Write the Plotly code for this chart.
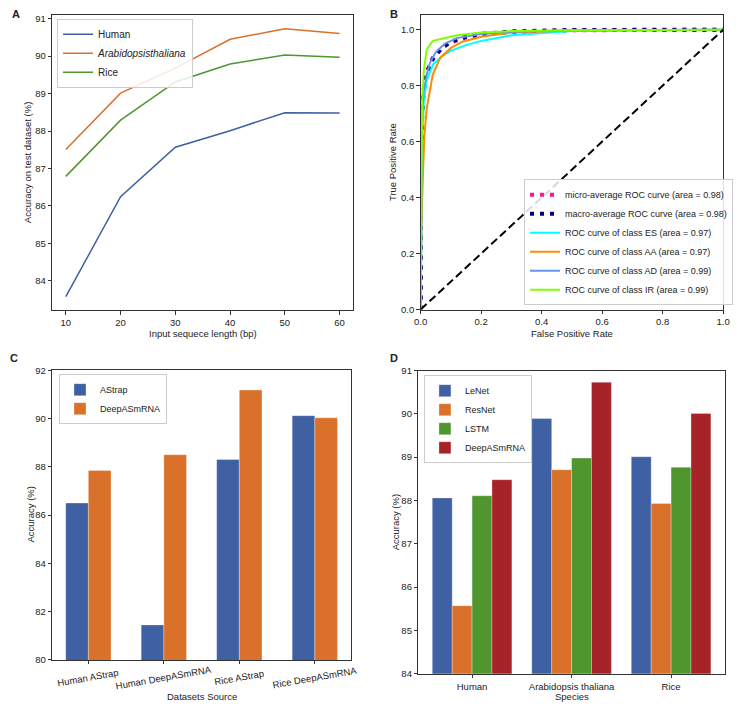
import plotly.graph_objects as go

# ---------------- Data ----------------
# Panel A
seq_len = [10, 20, 30, 40, 50, 60]
acc_human = [83.58, 86.25, 87.57, 88.01, 88.49, 88.48]
acc_arab = [87.51, 89.01, 89.68, 90.45, 90.73, 90.60]
acc_rice = [86.79, 88.29, 89.31, 89.79, 90.03, 89.97]

# Panel B (ROC curves)
micro_fpr = [0, 0.001, 0.005, 0.01, 0.02, 0.04, 0.07, 0.1, 0.15, 0.2, 0.3, 0.5, 1.0]
micro_tpr = [0, 0.50, 0.72, 0.79, 0.85, 0.90, 0.935, 0.955, 0.972, 0.982, 0.992, 0.998, 1.0]
macro_fpr = [0, 0.001, 0.005, 0.01, 0.02, 0.04, 0.07, 0.1, 0.15, 0.2, 0.3, 0.5, 1.0]
macro_tpr = [0, 0.48, 0.70, 0.78, 0.845, 0.895, 0.935, 0.957, 0.975, 0.985, 0.994, 0.999, 1.0]
es_fpr = [0, 0.002, 0.005, 0.01, 0.02, 0.04, 0.07, 0.1, 0.15, 0.2, 0.3, 0.5, 1.0]
es_tpr = [0, 0.45, 0.62, 0.74, 0.82, 0.875, 0.905, 0.925, 0.945, 0.96, 0.98, 0.995, 1.0]
aa_fpr = [0, 0.002, 0.008, 0.012, 0.02, 0.04, 0.065, 0.1, 0.14, 0.2, 0.3, 0.5, 1.0]
aa_tpr = [0, 0.30, 0.50, 0.62, 0.72, 0.84, 0.90, 0.935, 0.958, 0.975, 0.99, 0.997, 1.0]
ad_fpr = [0, 0.002, 0.005, 0.01, 0.02, 0.03, 0.05, 0.08, 0.12, 0.2, 0.3, 0.5, 1.0]
ad_tpr = [0, 0.55, 0.70, 0.78, 0.84, 0.88, 0.92, 0.95, 0.97, 0.985, 0.993, 0.998, 1.0]
ir_fpr = [0, 0.002, 0.005, 0.01, 0.02, 0.04, 0.08, 0.12, 0.2, 0.3, 0.5, 1.0]
ir_tpr = [0, 0.55, 0.75, 0.85, 0.93, 0.96, 0.97, 0.98, 0.99, 0.995, 0.998, 1.0]
chance = [0, 1]

# Panel C
datasets = ["Human AStrap", "Human DeepASmRNA", "Rice AStrap", "Rice DeepASmRNA"]
c_astrap = [86.50, 81.45, 88.30, 90.12]
c_deep = [87.85, 88.50, 91.18, 90.03]

# Panel D
species = ["Human", "Arabidopsis thaliana", "Rice"]
d_lenet = [88.06, 89.89, 89.01]
d_resnet = [85.57, 88.71, 87.93]
d_lstm = [88.11, 88.98, 88.77]
d_deep = [88.48, 90.73, 90.01]

# ---------------- Style ----------------
W, H = 738, 707
FONT = "Liberation Sans, Arial, sans-serif"
TXT = "#222222"
BLUE, ORANGE, GREEN, RED = "#3f60a3", "#d9712a", "#4f962f", "#a62428"


def px(x):
    return x / W


def py(y):
    return 1 - y / H


fig = go.Figure()

# Panel A
for ys, name, col in [(acc_human, "Human", BLUE),
                      (acc_arab, "<i>Arabidopsisthaliana</i>", ORANGE),
                      (acc_rice, "Rice", GREEN)]:
    fig.add_trace(go.Scatter(x=seq_len, y=ys, mode="lines", name=name,
                             line=dict(color=col, width=1.5),
                             xaxis="x", yaxis="y", legend="legend"))

# Panel B
roc = [
    (micro_fpr, micro_tpr, "micro-average ROC curve (area = 0.98)", "deeppink", 4, "4px,6px"),
    (macro_fpr, macro_tpr, "macro-average ROC curve (area = 0.98)", "navy", 4, "4px,6px"),
    (es_fpr, es_tpr, "ROC curve of class ES (area = 0.97)", "aqua", 2, "solid"),
    (aa_fpr, aa_tpr, "ROC curve of class AA (area = 0.97)", "darkorange", 2, "solid"),
    (ad_fpr, ad_tpr, "ROC curve of class AD (area = 0.99)", "cornflowerblue", 2, "solid"),
    (ir_fpr, ir_tpr, "ROC curve of class IR (area = 0.99)", "chartreuse", 2, "solid"),
]
for fx, ty, name, col, w, dash in roc:
    fig.add_trace(go.Scatter(x=fx, y=ty, mode="lines", name=name,
                             line=dict(color=col, width=w, dash=dash),
                             xaxis="x2", yaxis="y2", legend="legend2"))
fig.add_trace(go.Scatter(x=chance, y=chance, mode="lines", showlegend=False,
                         line=dict(color="black", width=2, dash="8px,4px"),
                         xaxis="x2", yaxis="y2"))

# Panel C
for vals, name, col, off in [(c_astrap, "AStrap", BLUE, -0.3), (c_deep, "DeepASmRNA", ORANGE, 0.0)]:
    fig.add_trace(go.Bar(x=datasets, y=vals, name=name, width=0.3, offset=off,
                         marker=dict(color=col, line=dict(color="rgba(255,255,255,0.5)", width=0.6)),
                         xaxis="x3", yaxis="y3", legend="legend3"))

# Panel D
for vals, name, col, off in [(d_lenet, "LeNet", BLUE, -0.4), (d_resnet, "ResNet", ORANGE, -0.2),
                             (d_lstm, "LSTM", GREEN, 0.0), (d_deep, "DeepASmRNA", RED, 0.2)]:
    fig.add_trace(go.Bar(x=species, y=vals, name=name, width=0.2, offset=off,
                         marker=dict(color=col, line=dict(color="rgba(255,255,255,0.5)", width=0.6)),
                         xaxis="x4", yaxis="y4", legend="legend4"))

axis_common = dict(showline=True, mirror=True, linecolor="#333333", linewidth=1,
                   ticks="outside", ticklen=3.5, tickwidth=0.8, tickcolor="#333333",
                   showgrid=False, zeroline=False,
                   tickfont=dict(family=FONT, size=9.5, color=TXT))

legend_common = dict(bgcolor="rgba(255,255,255,0.85)", bordercolor="#cccccc", borderwidth=1,
                     xanchor="left", yanchor="top",
                     font=dict(family=FONT, size=9, color=TXT), tracegroupgap=0)

fig.update_layout(
    width=W, height=H, margin=dict(l=0, r=0, t=0, b=0),
    paper_bgcolor="white", plot_bgcolor="white",
    font=dict(family=FONT, size=10, color=TXT),
    barmode="overlay",
    xaxis=dict(domain=[px(46), px(353)], range=[7.5, 62.5], tickvals=seq_len, anchor="y", **axis_common),
    yaxis=dict(domain=[py(309), py(9)], range=[83.22, 91.1], dtick=1, anchor="x", **axis_common),
    xaxis2=dict(domain=[px(421.7), px(730)], range=[0, 1.0], dtick=0.2, tickformat=".1f", anchor="y2", **axis_common),
    yaxis2=dict(domain=[py(308.3), py(9.3)], range=[0, 1.052], tickvals=[0, 0.2, 0.4, 0.6, 0.8, 1.0],
                tickformat=".1f", anchor="x2", **axis_common),
    xaxis3=dict(domain=[px(46), px(350.7)], range=[-0.48, 3.48], showticklabels=False, anchor="y3", **axis_common),
    yaxis3=dict(domain=[py(664.3), py(370)], range=[80, 92], dtick=2, anchor="x3", **axis_common),
    xaxis4=dict(domain=[px(419.3), px(731.7)], range=[-0.54, 2.54], anchor="y4", **axis_common),
    yaxis4=dict(domain=[py(678.3), py(370.3)], range=[84, 91], dtick=1, anchor="x4", **axis_common),
    legend=dict(x=px(51), y=py(13), **{**legend_common, "font": dict(family=FONT, size=10, color=TXT)}),
    legend2=dict(x=px(527), y=py(304), **{**legend_common, "yanchor": "bottom",
                                          "font": dict(family=FONT, size=9, color=TXT)}),
    legend3=dict(x=px(53), y=py(374), **legend_common),
    legend4=dict(x=px(425), y=py(375), **legend_common),
)

ann = []


def text(x, y, s, size=10, angle=0, bold=False, xref="paper", yref="paper", xanchor="center"):
    ann.append(dict(x=x, y=y, xref=xref, yref=yref, text=("<b>%s</b>" % s) if bold else s,
                    showarrow=False, textangle=angle, xanchor=xanchor, yanchor="middle",
                    font=dict(family=FONT, size=size, color=TXT)))


# Panel letters
text(px(9), py(8), "A", 11, bold=True)
text(px(394), py(8), "B", 11, bold=True)
text(px(7), py(358), "C", 11, bold=True)
text(px(394), py(358), "D", 11, bold=True)

# Axis titles
text(px(199.5), py(333), "Input sequece length (bp)", 9.5)
text(px(21), py(159), "Accuracy on test dataset (%)", 9.5, angle=-90)
text(px(576), py(333), "False Positive Rate", 9.5)
text(px(393), py(159), "True Positive Rate", 9.5, angle=-90)
text(px(199), py(701), "Datasets Source", 9.5)
text(px(24), py(517), "Accuracy (%)", 9.5, angle=-90)
text(px(575.5), py(701), "Species", 9.5)
text(px(396), py(524), "Accuracy (%)", 9.5, angle=-90)

# Rotated category labels for panel C
for cat in datasets:
    ann.append(dict(x=cat, y=py(682), xref="x3", yref="paper", text=cat, showarrow=False,
                    textangle=-10, xanchor="center", yanchor="middle",
                    font=dict(family=FONT, size=9.5, color=TXT)))

fig.update_layout(annotations=ann)

fig.write_html("out.html", config={"displayModeBar": False},
               post_script="document.body.style.margin='0';document.body.style.overflow='hidden';")
